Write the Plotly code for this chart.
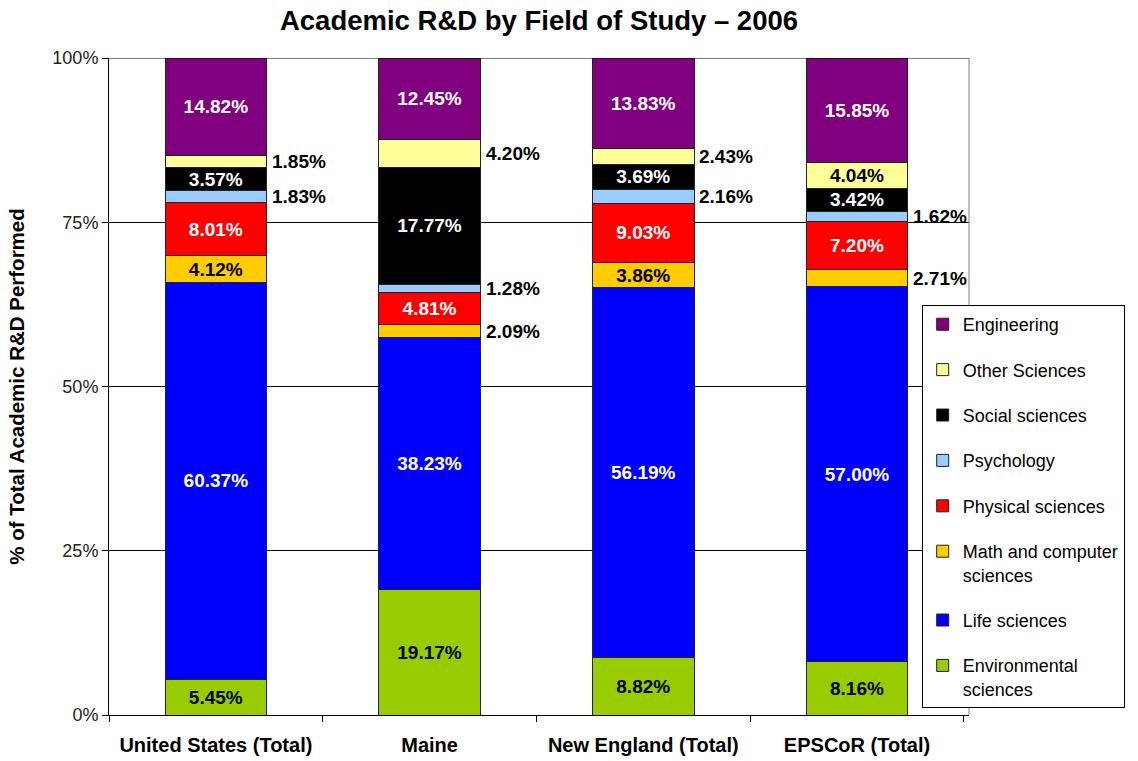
import plotly.graph_objects as go
import numpy as np

categories = ["United States (Total)", "Maine", "New England (Total)", "EPSCoR (Total)"]

# stacking order bottom -> top
fields = ["Environmental<br>sciences", "Life sciences", "Math and computer<br>sciences",
          "Physical sciences", "Psychology", "Social sciences", "Other Sciences", "Engineering"]

environmental = [5.45, 19.17, 8.82, 8.16]
life = [60.37, 38.23, 56.19, 57.00]
math_cs = [4.12, 2.09, 3.86, 2.71]
physical = [8.01, 4.81, 9.03, 7.20]
psychology = [1.83, 1.28, 2.16, 1.62]
social = [3.57, 17.77, 3.69, 3.42]
other = [1.85, 4.20, 2.43, 4.04]
engineering = [14.82, 12.45, 13.83, 15.85]

y_ticks = [0, 25, 50, 75, 100]
y_tick_labels = ["0%", "25%", "50%", "75%", "100%"]

series = [environmental, life, math_cs, physical, psychology, social, other, engineering]
colors = ["#99CC00", "#0000FF", "#FFCC00", "#FF0000", "#99CCFF", "#000000", "#FFFF99", "#800080"]
text_colors = ["black", "white", "black", "white", "black", "white", "black", "white"]

# which labels sit outside (to the right of) the bar: (series index, category index)
outside = {(4, 0), (6, 0), (2, 1), (4, 1), (6, 1), (4, 2), (6, 2), (2, 3), (4, 3)}

FONT = "Liberation Sans, Arial, sans-serif"
LABEL_SIZE = 19

fig = go.Figure()
n = len(series)
for si, (name, vals, col, tcol) in enumerate(zip(fields, series, colors, text_colors)):
    texts = ["" if (si, ci) in outside else f"{v:.2f}%" for ci, v in enumerate(vals)]
    fig.add_trace(go.Bar(
        x=categories, y=vals, name=name,
        marker=dict(color=col, line=dict(color="#222222", width=1)),
        text=texts, textposition="inside", insidetextanchor="middle",
        textangle=0, constraintext="none",
        textfont=dict(family=FONT, size=LABEL_SIZE, color=tcol, weight="bold"),
        legendgroup=f"g{si}", legendrank=n - si, hoverinfo="skip",
    ))

# outside labels placed at segment mid-heights
cum = np.cumsum(np.array(series), axis=0)
for si, ci in sorted(outside):
    mid = cum[si][ci] - series[si][ci] / 2
    fig.add_annotation(x=categories[ci], y=mid, text=f"<b>{series[si][ci]:.2f}%</b>",
                       showarrow=False, xanchor="left", yanchor="middle", xshift=54,
                       font=dict(family=FONT, size=LABEL_SIZE, color="black"))

# gray right border of plot area, black top line
fig.add_shape(type="line", xref="paper", yref="paper", x0=1, x1=1, y0=0, y1=1,
              line=dict(color="#808080", width=1))
fig.add_shape(type="line", xref="paper", yref="y", x0=0, x1=1, y0=100, y1=100,
              line=dict(color="black", width=1))

fig.update_layout(
    width=1138, height=761,
    barmode="stack", bargap=0.525,
    paper_bgcolor="white", plot_bgcolor="white",
    margin=dict(l=109, r=169, t=58, b=46),
    font=dict(family=FONT, size=18, color="black"),
    title=dict(text="<b>Academic R&D by Field of Study – 2006</b>",
               x=0.5, xref="paper", xanchor="center", y=0.973, yanchor="middle",
               font=dict(family=FONT, size=27.5, color="black")),
    uniformtext=dict(minsize=LABEL_SIZE, mode="show"),
    showlegend=True,
    legend=dict(x=0.945, y=0.624, xanchor="left", yanchor="top",
                traceorder="grouped", tracegroupgap=19,
                bgcolor="white", bordercolor="black", borderwidth=1,
                font=dict(family=FONT, size=18, color="black"),
                itemwidth=30, valign="top"),
    yaxis=dict(range=[0, 100], tickvals=y_ticks, ticktext=y_tick_labels,
               showgrid=True, gridcolor="black", gridwidth=1,
               showline=True, linecolor="black", linewidth=1,
               ticks="outside", ticklen=6, tickcolor="black",
               tickfont=dict(family=FONT, size=18, color="#222222"),
               zeroline=False, automargin=False,
               title=dict(text="<b>% of Total Academic R&D Performed</b>", standoff=22,
                          font=dict(family=FONT, size=20.5, color="black"))),
    xaxis=dict(type="category", tickson="boundaries", ticks="outside", ticklen=6,
               tickcolor="black", showline=True, linecolor="black", linewidth=1,
               showgrid=False, ticklabelstandoff=12, automargin=False,
               tickfont=dict(family=FONT, size=20, color="black", weight="bold")),
)

fig.write_html("out.html", config={"displayModeBar": False},
               post_script="document.body.style.margin='0px';")
